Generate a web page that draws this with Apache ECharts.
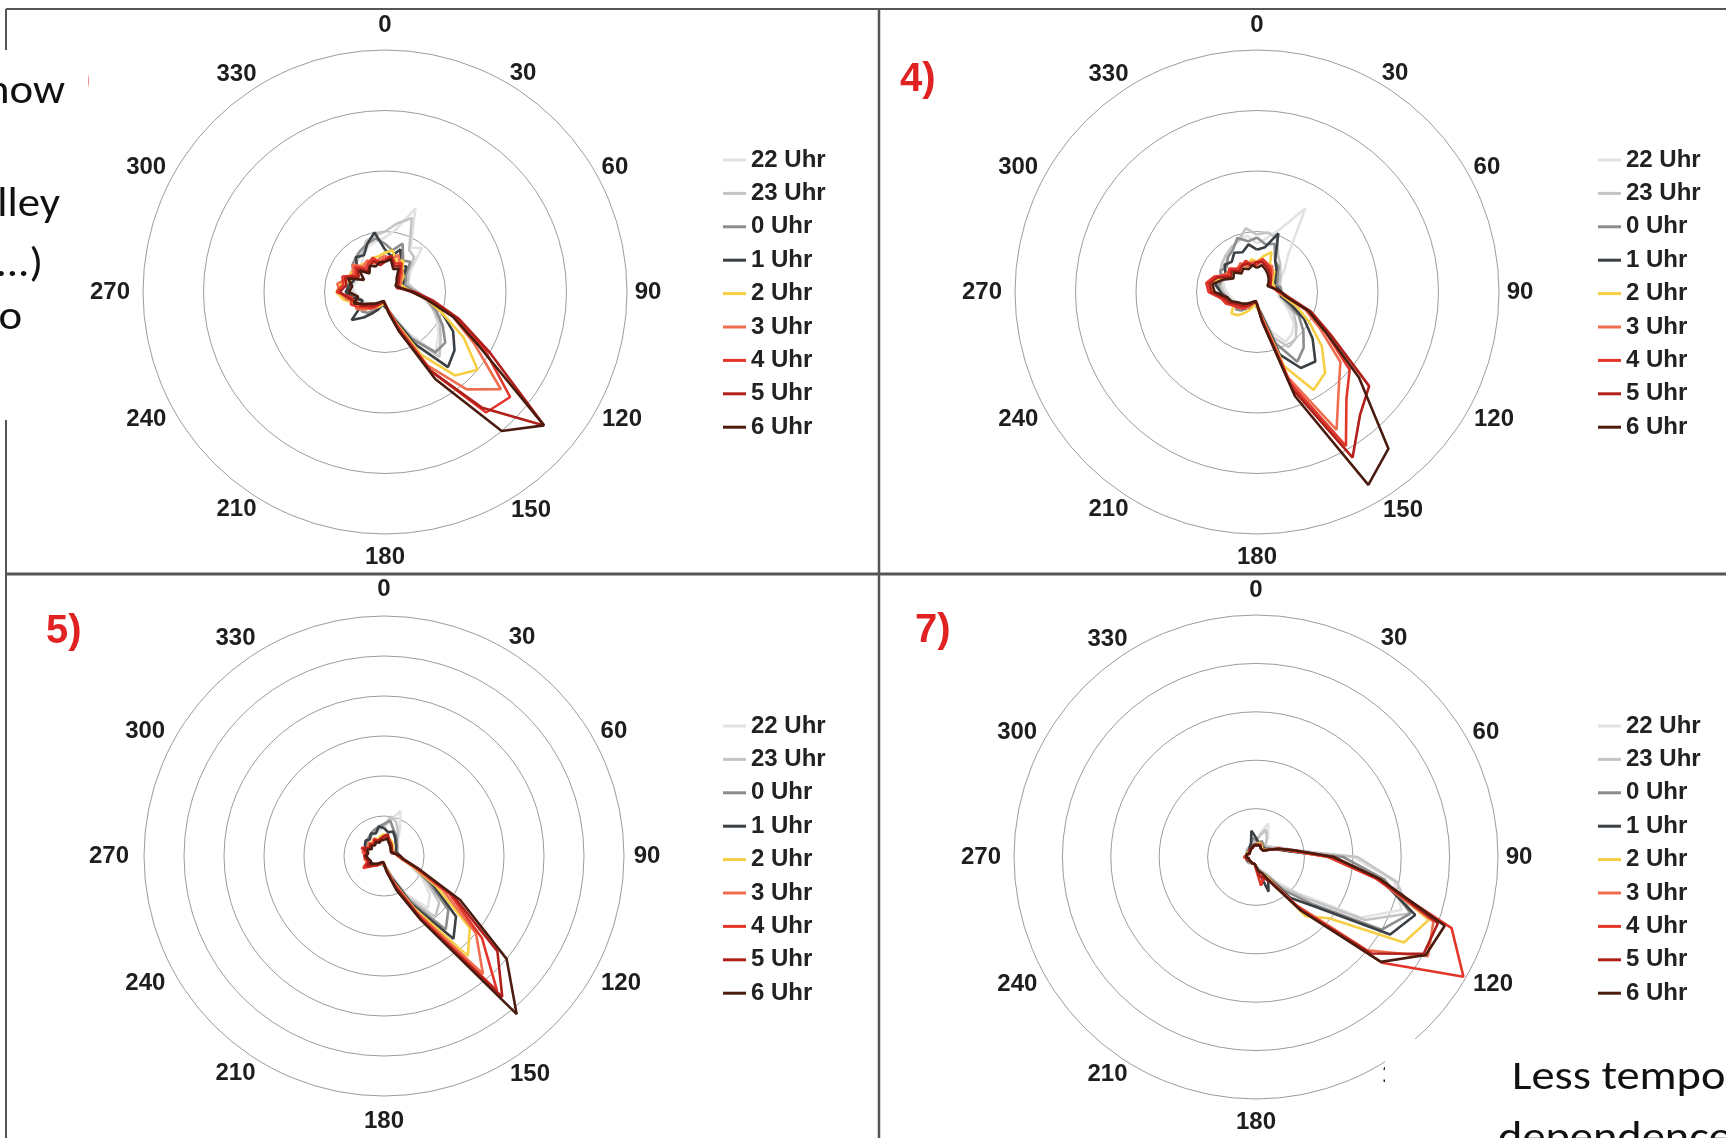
<!DOCTYPE html>
<html>
<head>
<meta charset="utf-8">
<script src="https://cdn.jsdelivr.net/npm/echarts@6/dist/echarts.min.js"></script>
<style>
  html, body { margin: 0; padding: 0; background: #fff; }
  #chart { width: 1726px; height: 1138px; }
</style>
</head>
<body>
<div id="chart"></div>
<script>
// wind direction bins (degrees), one value per bin per hour
var directions = [0,10,20,30,40,50,60,70,80,90,100,110,120,130,140,150,160,170,
                  180,190,200,210,220,230,240,250,260,270,280,290,300,310,320,330,340,350];
var angleTicks = [0,30,60,90,120,150,180,210,240,270,300,330];
var hours = ['22 Uhr','23 Uhr','0 Uhr','1 Uhr','2 Uhr','3 Uhr','4 Uhr','5 Uhr','6 Uhr'];
var hourColors = ['#e2e2e2','#c4c4c4','#8d8d8d','#3b4045','#f7cf45','#ef6e4f','#e3352a','#b11f1a','#4a1c10'];
var panelLabels = ['3)','4)','5)','7)'];
var panelRings = [4, 4, 6, 5];

// panel 3) : rows = hours in the order above
var panel3 = [
  [0.9,1.05,1.47,0.85,0.95,0.55,0.45,0.4,0.45,0.5,0.65,0.85,1.0,1.15,1.3,0.8,0.45,0.3,0.25,0.2,0.2,0.25,0.3,0.3,0.35,0.4,0.45,0.5,0.55,0.5,0.5,0.55,0.6,0.7,0.8,0.85],
  [1.0,1.15,1.3,0.8,0.75,0.5,0.45,0.4,0.45,0.55,0.7,0.85,1.05,1.2,1.4,0.85,0.45,0.3,0.25,0.2,0.25,0.3,0.35,0.4,0.4,0.45,0.5,0.55,0.6,0.55,0.6,0.65,0.7,0.75,0.9,0.95],
  [0.8,0.7,0.85,0.6,0.65,0.45,0.4,0.35,0.4,0.5,0.7,0.9,1.1,1.3,1.3,0.9,0.5,0.3,0.25,0.2,0.25,0.35,0.45,0.5,0.45,0.4,0.5,0.6,0.65,0.55,0.6,0.7,0.75,0.8,0.85,0.9],
  [0.7,0.6,0.75,0.5,0.55,0.4,0.35,0.3,0.35,0.45,0.75,1.0,1.3,1.5,1.62,1.0,0.5,0.3,0.25,0.2,0.3,0.4,0.55,0.72,0.45,0.4,0.55,0.65,0.6,0.55,0.65,0.6,0.75,0.7,0.85,1.0],
  [0.65,0.7,0.55,0.6,0.45,0.4,0.3,0.3,0.35,0.45,0.7,1.0,1.5,2.0,1.8,1.2,0.55,0.3,0.2,0.2,0.25,0.3,0.35,0.45,0.5,0.55,0.7,0.8,0.75,0.6,0.65,0.55,0.6,0.55,0.6,0.6],
  [0.6,0.55,0.65,0.5,0.45,0.35,0.3,0.25,0.3,0.45,0.75,1.2,1.7,2.5,2.1,1.4,0.6,0.3,0.2,0.15,0.2,0.3,0.35,0.45,0.55,0.5,0.65,0.75,0.8,0.65,0.6,0.7,0.55,0.6,0.5,0.55],
  [0.55,0.6,0.5,0.55,0.4,0.3,0.25,0.25,0.3,0.45,0.75,1.25,1.9,2.7,2.6,1.5,0.6,0.3,0.2,0.15,0.2,0.25,0.35,0.4,0.5,0.6,0.55,0.8,0.7,0.75,0.55,0.65,0.5,0.55,0.6,0.5],
  [0.5,0.6,0.45,0.5,0.35,0.3,0.25,0.2,0.3,0.5,0.8,1.3,2.0,3.43,2.5,1.5,0.7,0.35,0.2,0.15,0.2,0.2,0.3,0.35,0.45,0.5,0.6,0.75,0.65,0.7,0.5,0.6,0.45,0.5,0.55,0.45],
  [0.5,0.55,0.4,0.45,0.3,0.25,0.2,0.2,0.3,0.45,0.7,1.2,1.8,3.43,3.0,1.66,0.7,0.35,0.2,0.15,0.15,0.2,0.25,0.3,0.4,0.55,0.45,0.6,0.55,0.65,0.4,0.55,0.4,0.5,0.45,0.5]
];

// panel 4)
var panel4 = [
  [0.8,0.9,1.1,1.6,0.8,0.6,0.45,0.4,0.4,0.4,0.35,0.45,0.6,0.8,0.9,0.95,0.7,0.3,0.25,0.2,0.2,0.25,0.3,0.35,0.35,0.4,0.45,0.5,0.55,0.6,0.6,0.7,0.75,0.85,0.9,0.95],
  [0.95,1.0,0.95,0.7,0.6,0.5,0.45,0.4,0.4,0.4,0.4,0.5,0.7,0.85,1.0,1.05,0.8,0.35,0.25,0.2,0.25,0.3,0.35,0.4,0.4,0.45,0.5,0.55,0.6,0.65,0.7,0.75,0.8,0.85,0.9,1.07],
  [0.9,0.8,0.85,0.6,0.55,0.45,0.4,0.35,0.4,0.4,0.4,0.55,0.8,1.0,1.2,1.33,0.9,0.35,0.25,0.2,0.25,0.3,0.4,0.45,0.4,0.45,0.5,0.6,0.65,0.6,0.7,0.65,0.75,0.8,0.95,0.85],
  [0.7,0.75,1.03,0.6,0.5,0.4,0.35,0.3,0.35,0.4,0.4,0.6,0.9,1.2,1.5,1.45,1.1,0.35,0.25,0.2,0.25,0.3,0.35,0.4,0.45,0.5,0.55,0.6,0.7,0.65,0.6,0.7,0.65,0.75,0.7,0.8],
  [0.5,0.6,0.7,0.4,0.45,0.35,0.3,0.3,0.3,0.35,0.45,0.7,1.0,1.4,1.75,1.87,1.3,0.4,0.25,0.2,0.3,0.4,0.5,0.55,0.45,0.5,0.6,0.7,0.8,0.65,0.55,0.5,0.45,0.5,0.45,0.55],
  [0.5,0.55,0.45,0.5,0.4,0.3,0.25,0.25,0.3,0.35,0.5,0.85,1.2,1.8,2.1,2.63,1.5,0.4,0.2,0.15,0.2,0.3,0.35,0.4,0.45,0.5,0.6,0.75,0.85,0.7,0.6,0.55,0.5,0.55,0.45,0.5],
  [0.45,0.55,0.5,0.45,0.35,0.3,0.25,0.25,0.3,0.35,0.5,0.9,1.3,2.0,2.3,2.94,1.6,0.45,0.2,0.15,0.2,0.25,0.35,0.4,0.45,0.55,0.6,0.8,0.85,0.75,0.55,0.6,0.5,0.5,0.55,0.45],
  [0.5,0.5,0.45,0.4,0.35,0.3,0.25,0.25,0.3,0.4,0.55,0.95,1.4,2.42,2.65,3.16,1.7,0.5,0.2,0.15,0.2,0.25,0.3,0.35,0.4,0.5,0.55,0.75,0.8,0.7,0.5,0.55,0.45,0.5,0.5,0.45],
  [0.4,0.45,0.4,0.35,0.3,0.25,0.2,0.2,0.3,0.4,0.5,0.9,1.3,2.2,3.38,3.68,1.83,0.5,0.2,0.15,0.15,0.2,0.25,0.3,0.35,0.45,0.5,0.7,0.75,0.6,0.45,0.5,0.4,0.45,0.4,0.45]
];

// panel 5)
var panel5 = [
  [0.7,0.9,1.2,0.8,0.55,0.45,0.4,0.35,0.35,0.4,0.5,0.7,1.1,1.5,1.7,1.1,0.5,0.3,0.25,0.2,0.2,0.25,0.3,0.3,0.35,0.35,0.4,0.4,0.45,0.45,0.5,0.5,0.55,0.6,0.6,0.65],
  [0.75,1.0,0.9,0.7,0.5,0.45,0.4,0.35,0.35,0.4,0.5,0.75,1.2,1.8,2.0,1.2,0.55,0.3,0.25,0.2,0.2,0.25,0.3,0.35,0.35,0.4,0.4,0.45,0.45,0.5,0.5,0.55,0.55,0.6,0.65,0.7],
  [0.8,0.9,0.7,0.6,0.5,0.4,0.35,0.35,0.35,0.4,0.5,0.8,1.3,2.1,2.4,1.3,0.6,0.3,0.25,0.2,0.2,0.25,0.3,0.35,0.35,0.4,0.45,0.45,0.5,0.5,0.5,0.55,0.6,0.65,0.7,0.75],
  [0.7,0.6,0.65,0.55,0.45,0.4,0.35,0.3,0.35,0.4,0.5,0.8,1.4,2.35,2.7,1.4,0.6,0.3,0.2,0.2,0.2,0.25,0.3,0.3,0.35,0.4,0.4,0.45,0.5,0.5,0.55,0.6,0.55,0.65,0.6,0.75],
  [0.55,0.5,0.45,0.4,0.35,0.3,0.3,0.25,0.3,0.35,0.45,0.75,1.5,2.8,3.26,1.5,0.7,0.3,0.2,0.2,0.2,0.25,0.3,0.35,0.4,0.45,0.4,0.5,0.45,0.5,0.45,0.5,0.45,0.5,0.45,0.5],
  [0.5,0.45,0.4,0.35,0.3,0.3,0.25,0.25,0.3,0.35,0.45,0.8,1.7,3.0,3.85,1.6,0.7,0.35,0.2,0.15,0.2,0.25,0.3,0.35,0.45,0.4,0.5,0.45,0.55,0.5,0.45,0.5,0.4,0.45,0.4,0.45],
  [0.45,0.5,0.4,0.35,0.3,0.25,0.25,0.2,0.3,0.35,0.5,0.85,1.9,3.2,4.4,1.7,0.8,0.35,0.2,0.15,0.2,0.25,0.3,0.4,0.6,0.45,0.4,0.5,0.45,0.6,0.4,0.45,0.4,0.5,0.4,0.45],
  [0.5,0.55,0.4,0.35,0.3,0.25,0.2,0.2,0.3,0.4,0.5,0.9,2.0,3.7,4.6,1.8,0.8,0.4,0.2,0.15,0.2,0.2,0.3,0.35,0.5,0.4,0.45,0.5,0.4,0.55,0.4,0.45,0.35,0.45,0.4,0.45],
  [0.4,0.45,0.35,0.3,0.25,0.25,0.2,0.2,0.3,0.4,0.5,0.9,2.2,4.0,5.16,1.85,0.9,0.4,0.2,0.15,0.15,0.2,0.25,0.3,0.4,0.35,0.4,0.45,0.4,0.45,0.35,0.4,0.35,0.4,0.35,0.4]
];

// panel 7)
var panel7 = [
  [0.3,0.5,0.74,0.5,0.3,0.3,0.4,0.55,0.8,2.0,2.9,3.2,2.5,1.2,0.7,0.4,0.3,0.25,0.2,0.15,0.15,0.15,0.15,0.2,0.2,0.2,0.2,0.2,0.2,0.2,0.2,0.2,0.25,0.25,0.25,0.3],
  [0.3,0.45,0.6,0.45,0.3,0.3,0.4,0.55,0.8,2.1,2.95,3.4,2.6,1.3,0.8,0.4,0.3,0.25,0.2,0.15,0.15,0.15,0.15,0.2,0.2,0.2,0.2,0.2,0.2,0.2,0.2,0.25,0.25,0.25,0.3,0.35],
  [0.35,0.3,0.35,0.3,0.25,0.25,0.35,0.5,0.7,1.8,2.7,3.4,3.0,1.5,0.9,0.45,0.35,0.25,0.2,0.15,0.15,0.15,0.15,0.15,0.2,0.2,0.2,0.2,0.2,0.2,0.2,0.2,0.2,0.25,0.3,0.4],
  [0.4,0.3,0.3,0.25,0.25,0.25,0.3,0.45,0.7,1.6,2.6,3.5,3.2,1.6,1.1,0.5,0.76,0.3,0.2,0.15,0.15,0.15,0.15,0.15,0.15,0.2,0.2,0.2,0.2,0.2,0.2,0.2,0.2,0.25,0.3,0.55],
  [0.25,0.3,0.3,0.25,0.2,0.2,0.3,0.5,0.75,1.5,2.6,3.8,3.53,1.97,1.6,0.5,0.35,0.3,0.2,0.15,0.15,0.15,0.15,0.15,0.15,0.15,0.2,0.25,0.2,0.2,0.2,0.15,0.2,0.2,0.2,0.25],
  [0.25,0.25,0.3,0.2,0.2,0.2,0.3,0.5,0.75,1.5,2.5,3.9,4.1,3.0,1.3,0.55,0.4,0.35,0.2,0.15,0.15,0.15,0.15,0.15,0.15,0.15,0.2,0.2,0.2,0.2,0.15,0.15,0.2,0.2,0.2,0.25],
  [0.25,0.25,0.25,0.2,0.2,0.2,0.3,0.5,0.75,1.5,2.5,4.3,4.95,3.4,1.35,0.6,0.45,0.6,0.25,0.15,0.15,0.15,0.15,0.15,0.15,0.15,0.2,0.25,0.2,0.2,0.15,0.15,0.2,0.2,0.2,0.25],
  [0.25,0.25,0.25,0.2,0.2,0.2,0.3,0.5,0.8,1.6,2.55,4.0,4.0,3.1,1.4,0.6,0.45,0.4,0.2,0.15,0.15,0.15,0.15,0.15,0.15,0.15,0.2,0.2,0.2,0.2,0.15,0.15,0.2,0.2,0.2,0.25],
  [0.25,0.25,0.25,0.2,0.2,0.2,0.3,0.5,0.8,1.6,2.6,4.15,4.05,3.37,1.45,0.6,0.35,0.3,0.2,0.15,0.15,0.15,0.15,0.15,0.15,0.15,0.15,0.2,0.2,0.2,0.15,0.15,0.15,0.2,0.2,0.25]
];

var panelData = [panel3, panel4, panel5, panel7];

// layout of the 2x2 slide
var layout = [
  { center: [385, 292],  radius: 242, legendLeft: 723,  legendTop: 148, label: [55, 81] },
  { center: [1257, 292], radius: 242, legendLeft: 1598, legendTop: 148, label: [900, 80] },
  { center: [384, 856],  radius: 240, legendLeft: 723,  legendTop: 714, label: [46, 632] },
  { center: [1256, 857], radius: 242, legendLeft: 1598, legendTop: 714, label: [915, 631] }
];
// distance (px) from the centre of each direction label, plus a small nudge
var labelRadiusPx = [267, 258, 262, 263, 269, 262, 265, 263, 271, 275, 270, 263];
var labelNudge = [[0,0],[9,5],[3,6],[0,0],[4,-7],[15,-9],[0,0],[-17,-10],[-4,-8],[0,0],[-5,10],[-17,10]];

var boldFont = '"Liberation Sans", Arial, sans-serif';
var slideFont = 'Carlito, Calibri, Lato, sans-serif';

var myChart = echarts.init(document.getElementById('chart'));

var polar = [], angleAxis = [], radiusAxis = [], legend = [], series = [];

layout.forEach(function (p, i) {
  var rings = panelRings[i];
  polar.push({ center: p.center, radius: p.radius });
  angleAxis.push({
    polarIndex: i, type: 'value', min: 0, max: 360, interval: 30,
    startAngle: 90, clockwise: true,
    axisLine: { show: false }, axisTick: { show: false }, splitLine: { show: false },
    axisLabel: { show: false }
  });
  radiusAxis.push({
    polarIndex: i, type: 'value', min: 0, max: rings, interval: 1,
    axisLine: { show: false }, axisTick: { show: false }, axisLabel: { show: false },
    splitLine: { show: true, lineStyle: { color: '#9c9c9c', width: 1 } }
  });
  legend.push({
    data: hours, orient: 'vertical', left: p.legendLeft, top: p.legendTop,
    padding: 0, itemGap: 9.4, itemWidth: 23, itemHeight: 3, icon: 'rect',
    selectedMode: false,
    textStyle: { fontFamily: boldFont, fontWeight: 'bold', fontSize: 24, color: '#222', lineHeight: 24 }
  });
  panelData[i].forEach(function (vals, h) {
    var pts = directions.map(function (d, k) { return [vals[k], d]; });
    pts.push([vals[0], 360]);
    series.push({
      type: 'line', name: hours[h], coordinateSystem: 'polar', polarIndex: i,
      data: pts, symbol: 'none', smooth: false, animation: false,
      lineStyle: { color: hourColors[h], width: 2.6 },
      itemStyle: { color: hourColors[h] }
    });
  });
  // direction labels just outside the outer ring
  series.push({
    type: 'scatter', name: 'direction', coordinateSystem: 'polar', polarIndex: i,
    data: angleTicks.map(function (a, k) {
      return { value: [rings * labelRadiusPx[k] / p.radius, a], label: { offset: labelNudge[k] } };
    }),
    symbol: 'circle', symbolSize: 1, silent: true, animation: false, clip: false,
    itemStyle: { color: 'rgba(0,0,0,0)', opacity: 1 },
    emphasis: { disabled: true },
    label: {
      show: true, position: 'inside', fontFamily: boldFont, fontWeight: 'bold',
      fontSize: 24, color: '#1e1e1e', opacity: 1,
      formatter: function (prm) { return String(prm.value[1]); }
    }
  });
});

function txt(x, y, s, font, fill, align, z, sx) {
  return { type: 'text', x: x, y: y, z: z, scaleX: sx || 1,
    style: { text: s, font: font, fill: fill, align: align, textAlign: align,
             verticalAlign: 'middle', textVerticalAlign: 'middle' } };
}

var graphic = [
  { type: 'line', z: 40, shape: { x1: 6, y1: 9, x2: 1726, y2: 9 }, style: { stroke: '#555', lineWidth: 2 } },
  { type: 'line', z: 40, shape: { x1: 6, y1: 9, x2: 6, y2: 1138 }, style: { stroke: '#555', lineWidth: 2 } },
  { type: 'line', z: 40, shape: { x1: 879, y1: 9, x2: 879, y2: 1138 }, style: { stroke: '#555', lineWidth: 2.5 } },
  { type: 'line', z: 40, shape: { x1: 6, y1: 574, x2: 1726, y2: 574 }, style: { stroke: '#555', lineWidth: 3 } }
];
layout.forEach(function (p, i) {
  graphic.push(txt(p.label[0], p.label[1], panelLabels[i], 'bold 40px ' + boldFont, '#e02222', 'left', 50));
});
// overlapping slide text boxes
graphic.push({ type: 'rect', z: 100, shape: { x: 0, y: 50, width: 88, height: 370 }, style: { fill: '#fff' } });
graphic.push(txt(65, 93, 'show', '40px ' + slideFont, '#111', 'right', 101, 1.12));
graphic.push(txt(60, 206, 'valley', '40px ' + slideFont, '#111', 'right', 101, 1.12));
graphic.push(txt(43, 266, '...)', '40px ' + slideFont, '#111', 'right', 101, 1.12));
graphic.push(txt(22, 319, 'to', '40px ' + slideFont, '#111', 'right', 101, 1.12));
graphic.push({ type: 'rect', z: 100, shape: { x: 1385, y: 1039, width: 341, height: 99 }, style: { fill: '#fff' } });
graphic.push(txt(1512, 1079, 'Less temporal', '40px ' + slideFont, '#111', 'left', 101, 1.16));
graphic.push(txt(1498, 1140, 'dependence', '40px ' + slideFont, '#111', 'left', 101, 1.16));

var option = {
  backgroundColor: '#fff',
  animation: false,
  color: hourColors,
  polar: polar,
  angleAxis: angleAxis,
  radiusAxis: radiusAxis,
  legend: legend,
  series: series,
  graphic: graphic
};

myChart.setOption(option);
</script>
</body>
</html>
